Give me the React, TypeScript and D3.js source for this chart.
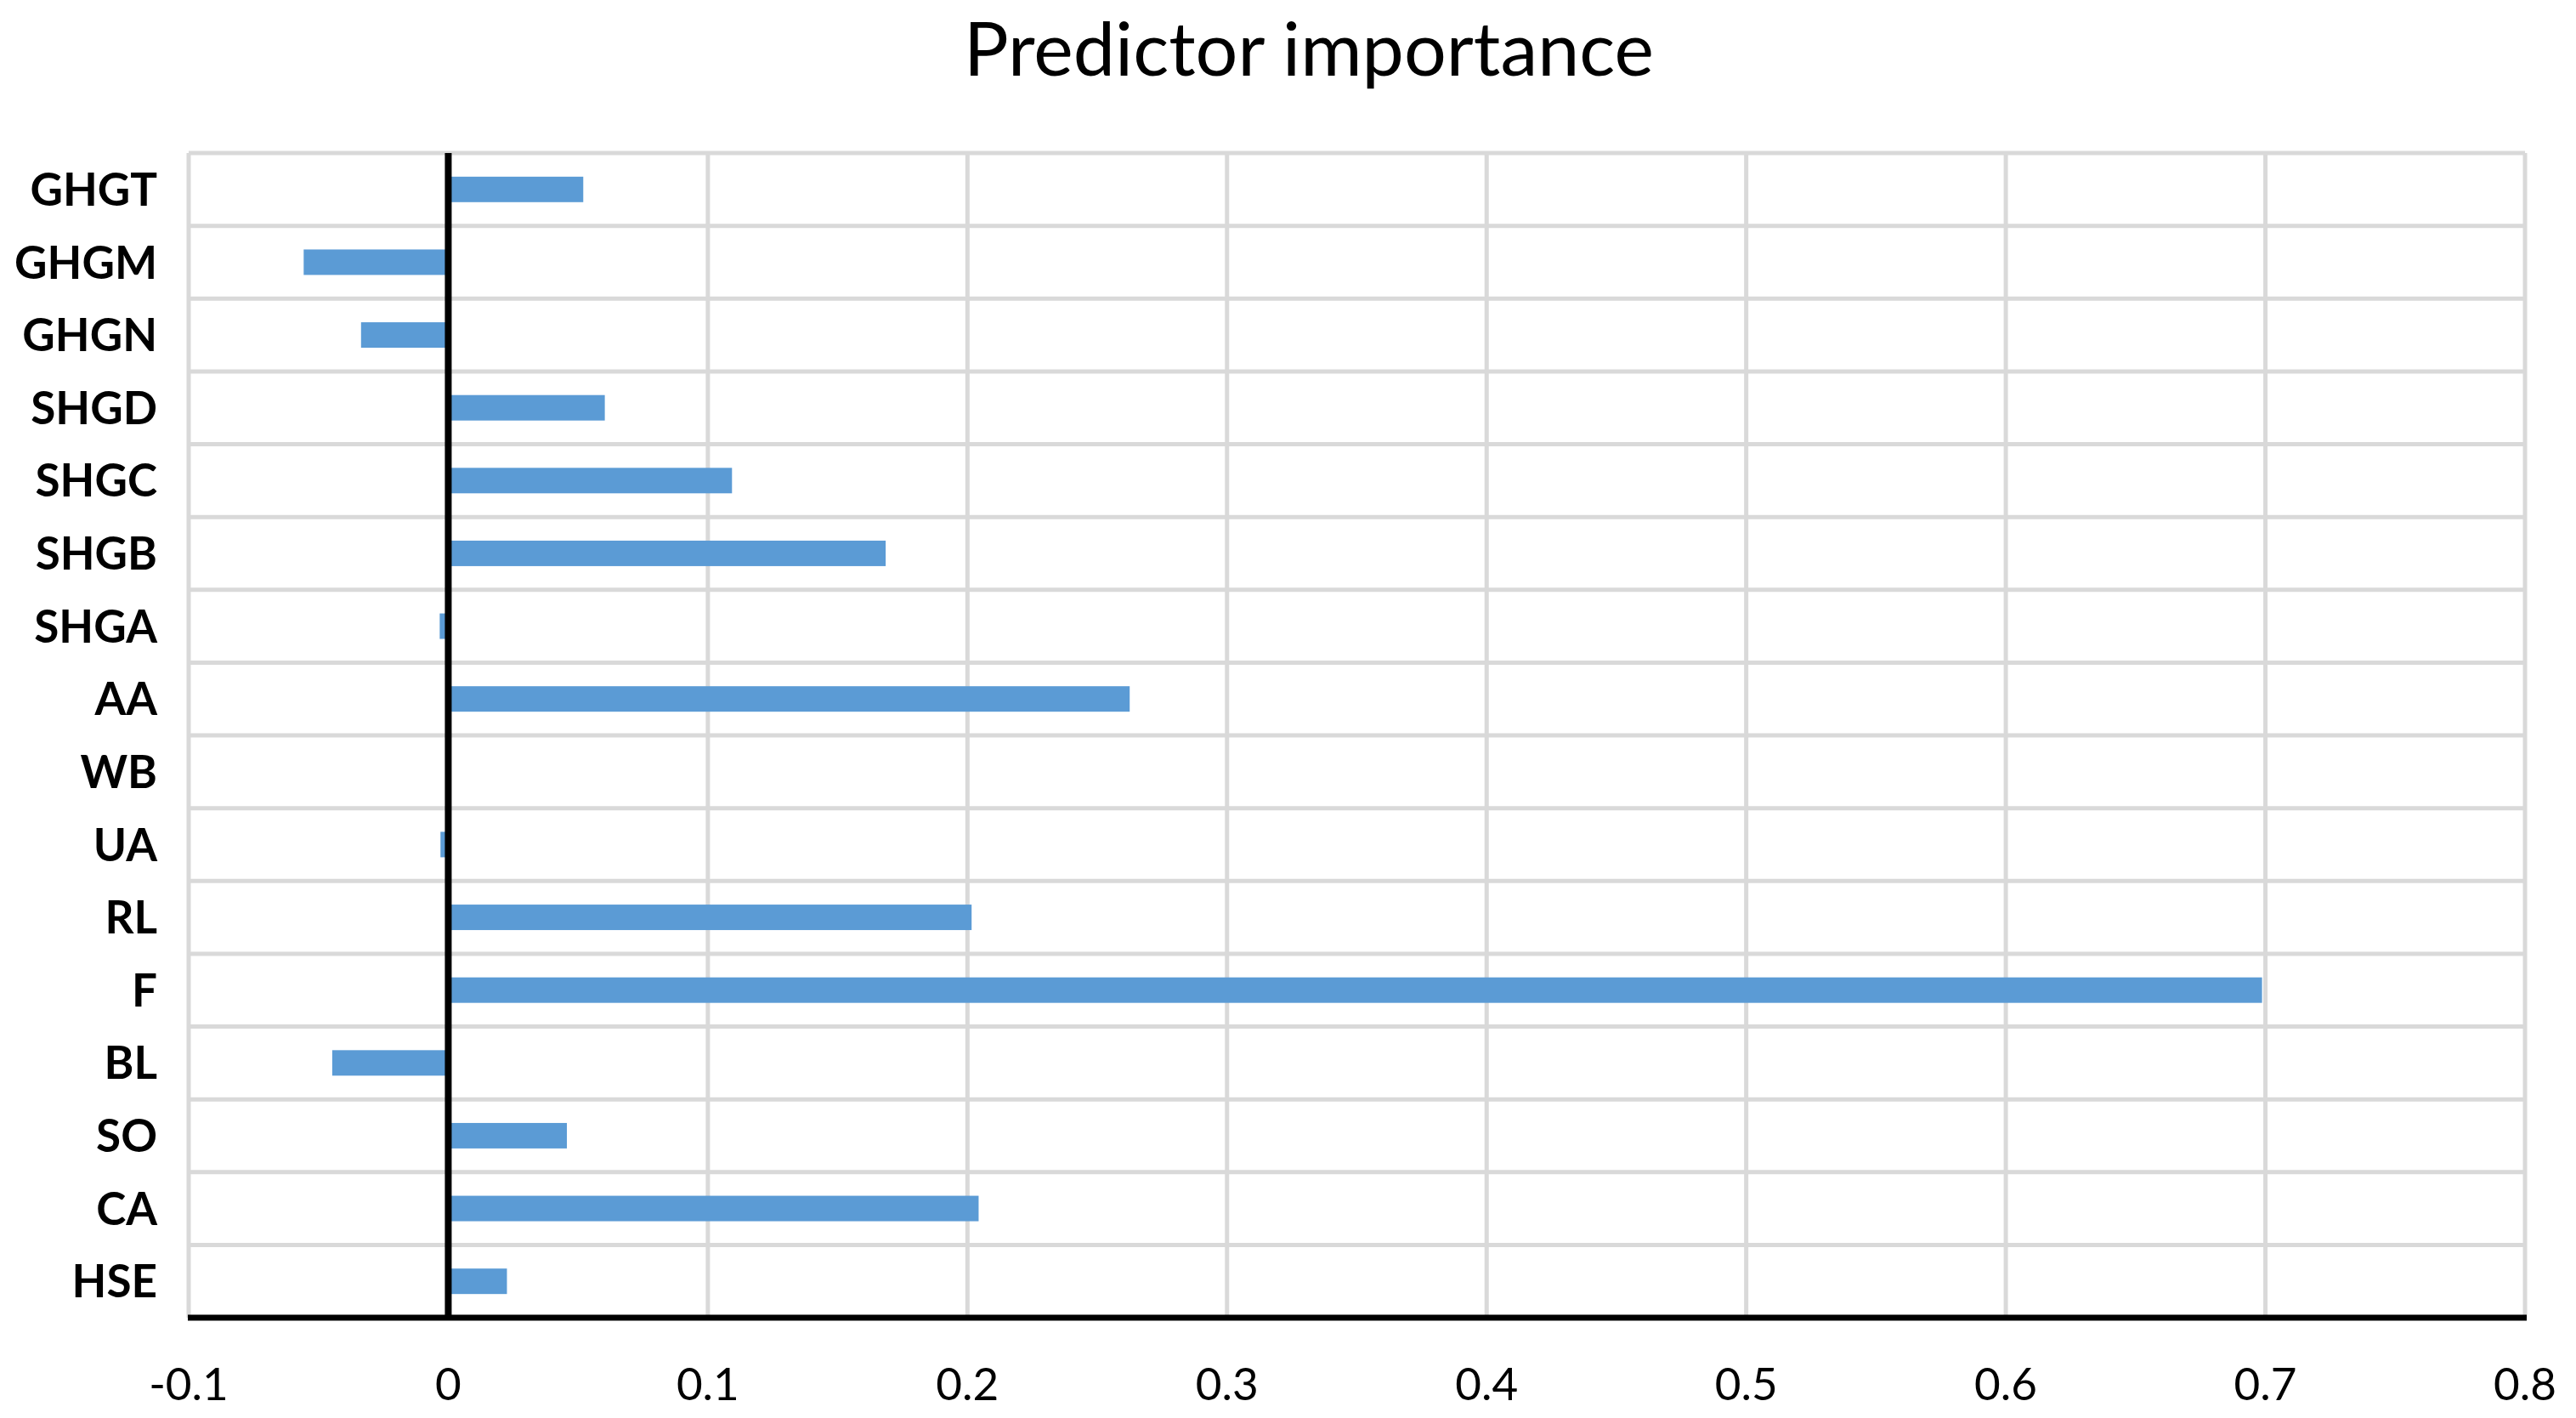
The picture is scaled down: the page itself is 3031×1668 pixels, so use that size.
import React from 'react'
import { scaleLinear, scaleBand } from 'd3'

const predictors = ['GHGT', 'GHGM', 'GHGN', 'SHGD', 'SHGC', 'SHGB', 'SHGA', 'AA', 'WB', 'UA', 'RL', 'F', 'BL', 'SO', 'CA', 'HSE']
const importance = [0.052, -0.0557, -0.0336, 0.0603, 0.1093, 0.1685, -0.0033, 0.2625, 0, -0.003, 0.2016, 0.6987, -0.0447, 0.0457, 0.2043, 0.0226]
const xTicks = [-0.1, 0, 0.1, 0.2, 0.3, 0.4, 0.5, 0.6, 0.7, 0.8]
const xTickLabels = ['-0.1', '0', '0.1', '0.2', '0.3', '0.4', '0.5', '0.6', '0.7', '0.8']

export default function App() {
  const W = 3031
  const H = 1668
  const margin = { top: 180, right: 60, bottom: 118, left: 222 }

  const x = scaleLinear().domain([-0.1, 0.8]).range([margin.left, W - margin.right])
  const y = scaleBand<string>()
    .domain(predictors)
    .range([margin.top, H - margin.bottom])
    .paddingInner(0.65)
    .paddingOuter(0.325)

  const step = y.step()
  const top = margin.top
  const bottom = H - margin.bottom
  const rowLines = predictors.map((_, i) => top + i * step).concat([bottom])

  return (
    <svg width={W} height={H} style={{ position: 'absolute', left: 0, top: 0, background: '#fff' }}>
      <rect x={0} y={0} width={W} height={H} fill="#fff" />
      <text x={1540} y={89} textAnchor="middle" fontFamily="Lato, 'Open Sans', sans-serif" fontSize={88} fill="#000">
        Predictor importance
      </text>

      {/* grid */}
      {xTicks.map(t => (
        <line key={'v' + t} x1={x(t)} x2={x(t)} y1={top} y2={bottom} stroke="#d9d9d9" strokeWidth={5} />
      ))}
      {rowLines.map((ly, i) => (
        <line key={'h' + i} x1={x(-0.1)} x2={x(0.8)} y1={ly} y2={ly} stroke="#d9d9d9" strokeWidth={5} />
      ))}

      {/* bars */}
      {predictors.map((p, i) => {
        const v = importance[i]
        if (v === 0) return null
        const x0 = x(Math.min(0, v))
        const x1 = x(Math.max(0, v))
        return <rect key={p} x={x0} y={y(p)} width={x1 - x0} height={y.bandwidth()} fill="#5b9bd5" />
      })}

      {/* zero line and bottom axis */}
      <line x1={x(0)} x2={x(0)} y1={top} y2={bottom} stroke="#000" strokeWidth={8} />
      <line x1={x(-0.1) - 1} x2={x(0.8) + 2} y1={bottom} y2={bottom} stroke="#000" strokeWidth={7} />

      {/* category labels */}
      {predictors.map(p => (
        <text
          key={'l' + p}
          x={185}
          y={(y(p) ?? 0) + y.bandwidth() / 2}
          dy="0.36em"
          textAnchor="end"
          fontFamily="Lato, 'Open Sans', sans-serif"
          fontWeight="bold"
          fontSize={53}
          fill="#000"
        >
          {p}
        </text>
      ))}

      {/* x tick labels */}
      {xTicks.map((t, i) => (
        <text key={'t' + t} x={x(t)} y={1647} textAnchor="middle" fontFamily="Lato, 'Open Sans', sans-serif" fontSize={53} fill="#000">
          {xTickLabels[i]}
        </text>
      ))}
    </svg>
  )
}
